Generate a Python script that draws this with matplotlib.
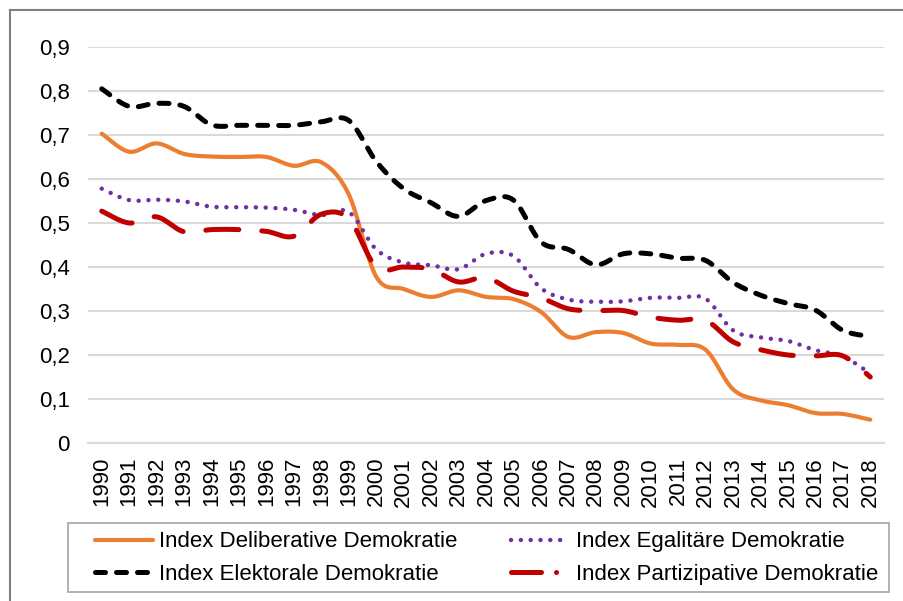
import numpy as np
import matplotlib
matplotlib.use("Agg")
import matplotlib.pyplot as plt
from matplotlib.lines import Line2D
from matplotlib.patches import Rectangle

plt.rcParams['font.family'] = ['Liberation Sans', 'DejaVu Sans']

years = [str(y) for y in range(1990, 2019)]

deliberative = [0.703, 0.662, 0.681, 0.657, 0.651, 0.650, 0.650, 0.630, 0.638, 0.565,
                0.378, 0.350, 0.332, 0.347, 0.332, 0.327, 0.298, 0.241, 0.252, 0.250,
                0.226, 0.223, 0.212, 0.122, 0.097, 0.086, 0.068, 0.066, 0.053]
egalitaer = [0.578, 0.552, 0.553, 0.549, 0.537, 0.536, 0.535, 0.530, 0.518, 0.525,
             0.440, 0.410, 0.404, 0.395, 0.430, 0.425, 0.352, 0.326, 0.321, 0.322,
             0.330, 0.330, 0.328, 0.256, 0.240, 0.232, 0.211, 0.197, 0.158]
elektoral = [0.805, 0.765, 0.772, 0.765, 0.723, 0.722, 0.722, 0.722, 0.730, 0.733,
             0.640, 0.578, 0.546, 0.515, 0.551, 0.552, 0.457, 0.440, 0.405, 0.430,
             0.430, 0.420, 0.415, 0.365, 0.336, 0.317, 0.302, 0.256, 0.242]
partizipativ = [0.527, 0.500, 0.514, 0.480, 0.485, 0.485, 0.481, 0.470, 0.520, 0.510,
                0.400, 0.400, 0.395, 0.366, 0.376, 0.345, 0.330, 0.305, 0.301, 0.301,
                0.286, 0.279, 0.279, 0.230, 0.212, 0.200, 0.198, 0.198, 0.150]

labels = ["Index Deliberative Demokratie", "Index Egalitäre Demokratie",
          "Index Elektorale Demokratie", "Index Partizipative Demokratie"]
yticks = [0, 0.1, 0.2, 0.3, 0.4, 0.5, 0.6, 0.7, 0.8, 0.9]


def smooth(y, n=24):
    """Excel-like smoothed line (Catmull-Rom in Bezier form) through the points."""
    y = np.asarray(y, float)
    x = np.arange(len(y), dtype=float)
    P = np.column_stack([x, y])
    out = []
    t = np.linspace(0, 1, n)
    for i in range(len(P) - 1):
        p0 = P[max(i - 1, 0)]
        p1 = P[i]
        p2 = P[i + 1]
        p3 = P[min(i + 2, len(P) - 1)]
        c1 = p1 + (p2 - p0) / 6.0
        c2 = p2 - (p3 - p1) / 6.0
        seg = ((1 - t) ** 3)[:, None] * p1 + (3 * (1 - t) ** 2 * t)[:, None] * c1 \
            + (3 * (1 - t) * t ** 2)[:, None] * c2 + (t ** 3)[:, None] * p2
        out.append(seg if i == 0 else seg[1:])
    s = np.vstack(out)
    return s[:, 0], s[:, 1]


W, H = 904, 601
fig = plt.figure(figsize=(W / 100, H / 100), dpi=100)
ax = fig.add_axes([88 / W, 1 - 443 / H, (884 - 88) / W, (443 - 47) / H])

orange = '#ED7D31'
purple = '#7030A0'
black = '#000000'
red = '#C00000'

styles = [
    dict(color=orange, lw=3.0, ls='-'),
    dict(color=purple, lw=3.2, dashes=(0.01, 2.2)),
    dict(color=black, lw=3.6, dashes=(2.0, 2.2)),
    dict(color=red, lw=3.6, dashes=(6.6, 4.6)),
]
series = [deliberative, egalitaer, elektoral, partizipativ]
for k in [2, 1, 3, 0]:
    xs, ys = smooth(series[k])
    ax.plot(xs, ys, solid_capstyle='round', dash_capstyle='round', **styles[k], zorder=3 + k)

ax.set_xlim(-0.5, len(years) - 0.5)
ax.set_ylim(0, 0.9)
ax.set_yticks(yticks)
ax.set_yticklabels([("%.1f" % v).replace('.', ',') if v else '0' for v in yticks], fontsize=16)
ax.set_xticks(range(len(years)))
ax.set_xticklabels(years, rotation=90, fontsize=16)
ax.tick_params(length=0)
ax.tick_params(axis='x', pad=10)
ax.tick_params(axis='y', pad=13)
ax.grid(axis='y', color='#d9d9d9', lw=1.5)
ax.set_axisbelow(True)
for s in ['top', 'right', 'left']:
    ax.spines[s].set_visible(False)
ax.spines['bottom'].set_color('#d9d9d9')
ax.spines['bottom'].set_linewidth(1.5)

# legend proxies
h_del = Line2D([], [], color=orange, lw=3.0, solid_capstyle='round')
h_ega = Line2D([], [], color=purple, lw=3.2, dashes=(0.01, 2.2), dash_capstyle='round')
h_ele = Line2D([], [], color=black, lw=3.6, dashes=(2.0, 2.2), dash_capstyle='round')
h_par = Line2D([], [], color=red, lw=3.6, dashes=(6.0, 3.0, 0.01, 3.0), dash_capstyle='round')

# legend box
fig.add_artist(Rectangle((68 / W, 1 - 592 / H), (889 - 68) / W, (592 - 523) / H,
                         transform=fig.transFigure, fill=False, edgecolor='#a6a6a6', lw=1.2))

leg = fig.legend([h_del, h_ele, h_ega, h_par],
                 [labels[0], labels[2], labels[1], labels[3]],
                 ncol=2, loc='center left',
                 bbox_to_anchor=(95 / W, 1 - 558 / H),
                 fontsize=16, frameon=False, handlelength=2.6, handletextpad=0.3,
                 borderaxespad=0, borderpad=0, labelspacing=0.5, columnspacing=2.4)

# outer chart border (top and left visible)
fig.add_artist(Line2D([10 / W, 10 / W], [0, 1 - 10 / H], transform=fig.transFigure,
                      color='#7f7f7f', lw=1.5))
fig.add_artist(Line2D([10 / W, 1], [1 - 10 / H, 1 - 10 / H], transform=fig.transFigure,
                      color='#7f7f7f', lw=1.5))

fig.savefig('out.png', dpi=100)
